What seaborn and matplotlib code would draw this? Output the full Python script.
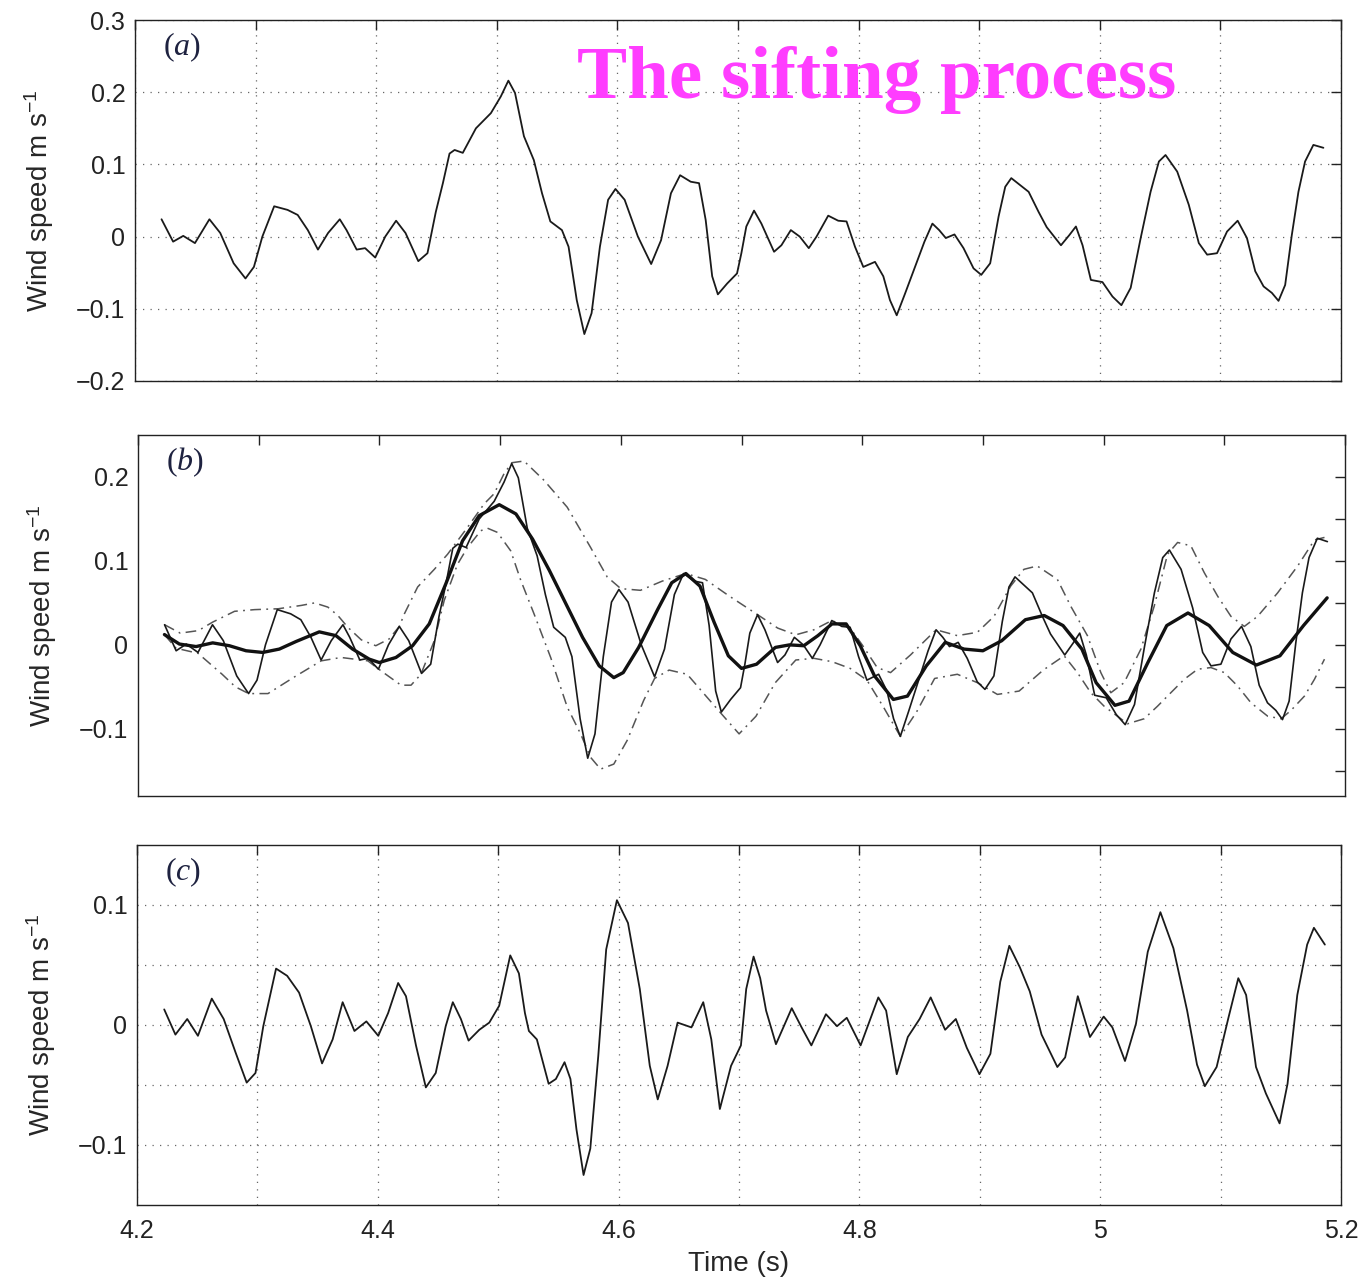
import numpy as np
import pandas as pd
import matplotlib
matplotlib.use("Agg")
import matplotlib.pyplot as plt
import seaborn as sns
from matplotlib.ticker import MultipleLocator, FixedLocator, FixedFormatter

# ---------------- data ----------------
# (a) original wind-speed signal
sig_t = [4.222, 4.2316, 4.240, 4.2497, 4.2617, 4.2707, 4.2818, 4.2916, 4.2986, 4.3056,
         4.3154, 4.3265, 4.3349, 4.3433, 4.3517, 4.3601, 4.3698, 4.3754, 4.3838, 4.3908,
         4.3992, 4.4075, 4.4165, 4.4243, 4.4349, 4.4425, 4.4494, 4.4553, 4.4608, 4.465,
         4.4718, 4.4827, 4.4951, 4.5033, 4.5096, 4.5151, 4.5225, 4.5307, 4.5375, 4.5444,
         4.554, 4.5595, 4.5663, 4.5726, 4.5786, 4.5855, 4.5923, 4.5984, 4.606, 4.617,
         4.628, 4.6362, 4.6444, 4.652, 4.6608, 4.6677, 4.6732, 4.6786, 4.6833, 4.691,
         4.6992, 4.7028, 4.7069, 4.7133, 4.7194, 4.7299, 4.736, 4.7438, 4.7512, 4.7587,
         4.7651, 4.7748, 4.7831, 4.79, 4.797, 4.8039, 4.8136, 4.8205, 4.826, 4.8316,
         4.8385, 4.8468, 4.8546, 4.8612, 4.8668, 4.8723, 4.8795, 4.887, 4.8953, 4.9017,
         4.9091, 4.9161, 4.9216, 4.9266, 4.941, 4.9493, 4.956, 4.9678, 4.9747, 4.9802,
         4.9857, 4.9926, 5.0022, 5.0105, 5.0179, 5.0256, 5.0339, 5.0421, 5.049, 5.0545,
         5.0642, 5.0738, 5.0821, 5.089, 5.0972, 5.1055, 5.1143, 5.122, 5.1289, 5.1358,
         5.1427, 5.1482, 5.1537, 5.1592, 5.1647, 5.1702, 5.1771, 5.1854]
sig_v = [0.024, -0.007, 0.001, -0.009, 0.024, 0.005, -0.037, -0.058, -0.042, 0.000,
         0.042, 0.037, 0.030, 0.009, -0.018, 0.005, 0.024, 0.009, -0.018, -0.016,
         -0.029, 0.000, 0.022, 0.005, -0.034, -0.023, 0.034, 0.074, 0.115, 0.120,
         0.116, 0.150, 0.171, 0.194, 0.216, 0.199, 0.139, 0.106, 0.060, 0.021,
         0.009, -0.014, -0.088, -0.135, -0.106, -0.014, 0.051, 0.066, 0.051, 0.000,
         -0.038, -0.005, 0.060, 0.085, 0.076, 0.074, 0.023, -0.055, -0.080, -0.065,
         -0.051, -0.023, 0.014, 0.036, 0.018, -0.021, -0.012, 0.009, 0.000, -0.016,
         0.000, 0.029, 0.022, 0.021, -0.014, -0.042, -0.035, -0.055, -0.088, -0.109,
         -0.079, -0.042, -0.007, 0.018, 0.009, -0.002, 0.003, -0.016, -0.044, -0.053,
         -0.037, 0.028, 0.069, 0.081, 0.062, 0.034, 0.013, -0.012, 0.002, 0.014,
         -0.012, -0.060, -0.063, -0.083, -0.095, -0.071, -0.002, 0.062, 0.104, 0.113,
         0.090, 0.044, -0.009, -0.025, -0.023, 0.007, 0.022, -0.002, -0.048, -0.069,
         -0.078, -0.089, -0.067, 0.002, 0.062, 0.104, 0.127, 0.123]

# (b) upper envelope
up_t = [4.222, 4.235, 4.25, 4.2617, 4.28, 4.2967, 4.316, 4.3353, 4.3463, 4.3573,
        4.3656, 4.3738, 4.385, 4.397, 4.408, 4.4165, 4.4207, 4.4317, 4.4455, 4.4565,
        4.473, 4.4868, 4.495, 4.5033, 4.5098, 4.5198, 4.5364, 4.5556, 4.575, 4.5887,
        4.6, 4.6163, 4.6344, 4.6539, 4.67, 4.69, 4.7133, 4.73, 4.745, 4.76,
        4.7748, 4.79, 4.80, 4.8124, 4.8235, 4.84, 4.8612, 4.8788, 4.8954, 4.9092,
        4.923, 4.934, 4.945, 4.9617, 4.9728, 4.9866, 4.9977, 5.006, 5.017, 5.0309,
        5.0419, 5.053, 5.0613, 5.0723, 5.0834, 5.0945, 5.1055, 5.1166, 5.1276, 5.1442,
        5.1608, 5.1747, 5.183]
up_v = [0.024, 0.014, 0.017, 0.027, 0.040, 0.042, 0.043, 0.047, 0.050, 0.045,
        0.035, 0.021, 0.006, -0.001, 0.007, 0.022, 0.037, 0.069, 0.090, 0.108,
        0.140, 0.168, 0.180, 0.204, 0.217, 0.219, 0.196, 0.164, 0.116, 0.081,
        0.067, 0.065, 0.076, 0.085, 0.078, 0.058, 0.036, 0.020, 0.012, 0.018,
        0.029, 0.020, 0.000, -0.027, -0.033, -0.012, 0.018, 0.011, 0.015, 0.034,
        0.070, 0.090, 0.094, 0.078, 0.046, 0.011, -0.033, -0.057, -0.045, -0.005,
        0.046, 0.108, 0.122, 0.118, 0.086, 0.058, 0.034, 0.022, 0.034, 0.062,
        0.094, 0.125, 0.128]

# (b) lower envelope
lo_t = [4.222, 4.2316, 4.2497, 4.2697, 4.2807, 4.2917, 4.3077, 4.3298, 4.3518, 4.3683,
        4.3904, 4.4014, 4.4179, 4.4262, 4.4344, 4.4455, 4.4537, 4.4647, 4.473, 4.484,
        4.4895, 4.4978, 4.5088, 4.5171, 4.5281, 4.5419, 4.5556, 4.5667, 4.575, 4.5832,
        4.5942, 4.6052, 4.619, 4.628, 4.64, 4.655, 4.67, 4.6833, 4.698, 4.712,
        4.728, 4.745, 4.76, 4.775, 4.79, 4.8039, 4.8180, 4.8316, 4.845, 4.86,
        4.8788, 4.8954, 4.912, 4.93, 4.95, 4.9673, 4.9783, 4.9894, 5.0004, 5.0115,
        5.0198, 5.0336, 5.0447, 5.0557, 5.0668, 5.0779, 5.0889, 5.1, 5.111, 5.1221,
        5.136, 5.147, 5.1553, 5.1664, 5.1747, 5.183]
lo_v = [0.012, -0.004, -0.010, -0.035, -0.050, -0.058, -0.058, -0.038, -0.019, -0.015,
        -0.019, -0.031, -0.048, -0.048, -0.035, 0.005, 0.053, 0.096, 0.116, 0.136,
        0.139, 0.134, 0.112, 0.077, 0.037, -0.015, -0.074, -0.106, -0.134, -0.148,
        -0.142, -0.114, -0.066, -0.040, -0.030, -0.035, -0.060, -0.082, -0.106, -0.085,
        -0.045, -0.018, -0.016, -0.020, -0.028, -0.042, -0.075, -0.109, -0.080, -0.040,
        -0.035, -0.045, -0.059, -0.055, -0.030, -0.013, -0.033, -0.057, -0.073, -0.085,
        -0.094, -0.088, -0.073, -0.057, -0.041, -0.029, -0.027, -0.033, -0.049, -0.069,
        -0.085, -0.088, -0.078, -0.061, -0.041, -0.017]

# (b) mean of the envelopes
mean_t = [4.2219, 4.2343, 4.2481, 4.2619, 4.2757, 4.2895, 4.3033, 4.3171, 4.3309, 4.3502,
          4.364, 4.3778, 4.3916, 4.3999, 4.4137, 4.4275, 4.4413, 4.4551, 4.4689, 4.4827,
          4.4993, 4.5131, 4.5269, 4.5407, 4.5545, 4.5683, 4.5821, 4.5942, 4.602, 4.6148,
          4.6305, 4.6422, 4.6539, 4.6656, 4.6773, 4.6891, 4.7, 4.7125, 4.7281, 4.7398,
          4.7516, 4.7633, 4.775, 4.7867, 4.7984, 4.8102, 4.8258, 4.8375, 4.8531, 4.8688,
          4.8844, 4.9, 4.9156, 4.9352, 4.9508, 4.9664, 4.982, 4.9938, 5.0094, 5.0211,
          5.0367, 5.0523, 5.0699, 5.0875, 5.107, 5.1266, 5.1461, 5.1656, 5.1852]
mean_v = [0.0123, 0.001, -0.002, 0.0024, -0.001, -0.007, -0.009, -0.005, 0.004, 0.0155,
          0.011, -0.005, -0.017, -0.021, -0.015, -0.001, 0.025, 0.073, 0.124, 0.154,
          0.167, 0.156, 0.126, 0.089, 0.049, 0.009, -0.025, -0.039, -0.033, -0.003,
          0.042, 0.074, 0.085, 0.070, 0.027, -0.013, -0.028, -0.023, -0.003, 0.000,
          -0.001, 0.011, 0.025, 0.025, -0.001, -0.037, -0.065, -0.061, -0.025, 0.003,
          -0.005, -0.007, 0.005, 0.030, 0.035, 0.023, -0.005, -0.045, -0.072, -0.067,
          -0.021, 0.023, 0.038, 0.023, -0.009, -0.024, -0.013, 0.023, 0.056]

# (c) first proto-IMF h1
h1_t = [4.2226, 4.2319, 4.2417, 4.2506, 4.2621, 4.272, 4.2819, 4.2911, 4.2984, 4.3049,
        4.3155, 4.3247, 4.3346, 4.3444, 4.3537, 4.3625, 4.3708, 4.3806, 4.3905, 4.4004,
        4.4086, 4.4169, 4.4234, 4.4317, 4.4399, 4.4481, 4.4564, 4.4623, 4.469, 4.4754,
        4.4843, 4.4926, 4.5008, 4.51, 4.5172, 4.5222, 4.5255, 4.5321, 4.5419, 4.5479,
        4.5551, 4.56, 4.565, 4.5709, 4.5765, 4.5831, 4.5897, 4.5986, 4.6078, 4.6176,
        4.6259, 4.6325, 4.6407, 4.649, 4.6605, 4.6703, 4.677, 4.6841, 4.6934, 4.7016,
        4.7060, 4.7121, 4.7176, 4.7225, 4.7307, 4.7438, 4.752, 4.7601, 4.7722, 4.7814,
        4.7895, 4.801, 4.8157, 4.8222, 4.831, 4.8402, 4.85, 4.8592, 4.8712, 4.8801,
        4.8892, 4.8997, 4.9088, 4.917, 4.9245, 4.9333, 4.9415, 4.9513, 4.9644, 4.9709,
        4.9814, 4.9915, 5.0029, 5.0101, 5.0206, 5.0297, 5.0395, 5.05, 5.0608, 5.0722,
        5.0804, 5.0869, 5.0967, 5.1065, 5.1147, 5.1212, 5.1294, 5.1376, 5.149, 5.1556,
        5.1637, 5.1719, 5.1775, 5.1866]
h1_v = [0.013, -0.008, 0.005, -0.009, 0.022, 0.005, -0.023, -0.048, -0.040, -0.001,
        0.047, 0.041, 0.027, -0.001, -0.032, -0.012, 0.019, -0.005, 0.003, -0.009,
        0.010, 0.035, 0.024, -0.017, -0.052, -0.040, -0.001, 0.019, 0.005, -0.013,
        -0.004, 0.002, 0.016, 0.058, 0.043, 0.010, -0.005, -0.012, -0.049, -0.045,
        -0.031, -0.045, -0.087, -0.125, -0.103, -0.026, 0.063, 0.104, 0.085, 0.030,
        -0.034, -0.062, -0.034, 0.002, -0.002, 0.019, -0.012, -0.070, -0.034, -0.017,
        0.030, 0.057, 0.039, 0.012, -0.016, 0.014, -0.002, -0.017, 0.009, -0.001,
        0.006, -0.017, 0.023, 0.012, -0.041, -0.010, 0.005, 0.023, -0.004, 0.005,
        -0.019, -0.041, -0.024, 0.036, 0.066, 0.048, 0.028, -0.008, -0.035, -0.027,
        0.024, -0.010, 0.007, -0.002, -0.030, 0.001, 0.061, 0.094, 0.064, 0.012,
        -0.033, -0.051, -0.035, 0.006, 0.039, 0.025, -0.035, -0.057, -0.082, -0.049,
        0.025, 0.067, 0.081, 0.067]

# tick labels
x_ticks = [4.2, 4.4, 4.6, 4.8, 5.0, 5.2]
x_ticklabels = ["4.2", "4.4", "4.6", "4.8", "5", "5.2"]
a_yticks = [-0.2, -0.1, 0.0, 0.1, 0.2, 0.3]
a_yticklabels = ["\u22120.2", "\u22120.1", "0", "0.1", "0.2", "0.3"]
b_yticks = [-0.1, 0.0, 0.1, 0.2]
b_yticklabels = ["\u22120.1", "0", "0.1", "0.2"]
c_yticks = [-0.1, 0.0, 0.1]
c_yticklabels = ["\u22120.1", "0", "0.1"]
panel_letters = ["a", "b", "c"]
ylabel_text = r"Wind speed m s$^{-1}$"
xlabel_text = "Time (s)"
title_text = "The sifting process"

# ---------------- style ----------------
sns.set_theme(style="white")
sans = ["Liberation Sans", "DejaVu Sans"]
plt.rcParams["font.family"] = sans
plt.rcParams["mathtext.default"] = "regular"
plt.rcParams["mathtext.fontset"] = "custom"
plt.rcParams["mathtext.it"] = "Liberation Serif:italic"
plt.rcParams["mathtext.rm"] = "Liberation Serif"
plt.rcParams["axes.edgecolor"] = "#222222"
plt.rcParams["lines.solid_joinstyle"] = "round"
plt.rcParams["lines.solid_capstyle"] = "round"

fig = plt.figure(figsize=(13.69, 12.81), dpi=100)
W, H = 1369, 1281
def axpos(l, t, r, b):
    return [l / W, 1 - b / H, (r - l) / W, (b - t) / H]

ax_a = fig.add_axes(axpos(135, 20, 1341, 381))
ax_b = fig.add_axes(axpos(138, 435, 1345, 796))
ax_c = fig.add_axes(axpos(137, 845, 1341, 1205))

grid_kw = dict(color="#666666", linestyle=(0, (1, 5)), linewidth=0.9)
env_ls = (0, (7, 3.5, 1.2, 3.5))

df_sig = pd.DataFrame({"t": sig_t, "v": sig_v})
df_up = pd.DataFrame({"t": up_t, "v": up_v})
df_lo = pd.DataFrame({"t": lo_t, "v": lo_v})
df_mean = pd.DataFrame({"t": mean_t, "v": mean_v})
df_h1 = pd.DataFrame({"t": h1_t, "v": h1_v})

# panel a
sns.lineplot(data=df_sig, x="t", y="v", ax=ax_a, color="#1a1a1a", linewidth=1.3, estimator=None)
# panel b
sns.lineplot(data=df_up, x="t", y="v", ax=ax_b, color="#555555", linewidth=1.1, estimator=None, linestyle=env_ls)
sns.lineplot(data=df_lo, x="t", y="v", ax=ax_b, color="#555555", linewidth=1.1, estimator=None, linestyle=env_ls)
sns.lineplot(data=df_sig, x="t", y="v", ax=ax_b, color="#1a1a1a", linewidth=1.2, estimator=None)
sns.lineplot(data=df_mean, x="t", y="v", ax=ax_b, color="#111111", linewidth=2.4, estimator=None)
# panel c
sns.lineplot(data=df_h1, x="t", y="v", ax=ax_c, color="#1a1a1a", linewidth=1.3, estimator=None)

for ax in (ax_a, ax_b, ax_c):
    ax.set_xlim(4.2, 5.2)
    ax.xaxis.set_major_locator(MultipleLocator(0.1))
    ax.set_xlabel("")
    ax.set_ylabel(ylabel_text, fontsize=20, labelpad=14)
    ax.tick_params(direction="in", top=True, right=True, length=7, width=1.0,
                   labelsize=18, colors="#222222", pad=7)
    ax.tick_params(which="minor", direction="in", top=True, right=True, length=7, width=1.0)
    for s in ax.spines.values():
        s.set_linewidth(1.0)
        s.set_visible(True)
    ax.set_xticklabels([])

ax_a.set_ylim(-0.2, 0.3)
ax_a.yaxis.set_major_locator(FixedLocator(a_yticks))
ax_a.yaxis.set_major_formatter(FixedFormatter(a_yticklabels))
ax_a.grid(True, which="major", **grid_kw)

ax_b.set_ylim(-0.18, 0.25)
ax_b.yaxis.set_major_locator(FixedLocator(b_yticks))
ax_b.yaxis.set_major_formatter(FixedFormatter(b_yticklabels))
ax_b.yaxis.set_minor_locator(FixedLocator([-0.15, -0.05, 0.05, 0.15]))
ax_b.grid(False)

ax_c.set_ylim(-0.15, 0.15)
ax_c.yaxis.set_major_locator(FixedLocator(c_yticks))
ax_c.yaxis.set_major_formatter(FixedFormatter(c_yticklabels))
ax_c.yaxis.set_minor_locator(FixedLocator([-0.05, 0.05]))
ax_c.grid(True, which="both", **grid_kw)
ax_c.set_xticks([4.2 + 0.1 * i for i in range(11)])
labels = []
for i in range(11):
    val = round(4.2 + 0.1 * i, 1)
    labels.append(x_ticklabels[x_ticks.index(val)] if val in x_ticks else "")
ax_c.set_xticklabels(labels)
ax_c.tick_params(axis="x", pad=10)
ax_c.set_xlabel(xlabel_text, fontsize=20, labelpad=6)

for ax, letter in zip((ax_a, ax_b, ax_c), panel_letters):
    ax.text(0.023, 0.97, r"($\mathit{%s}$)" % letter, transform=ax.transAxes,
            ha="left", va="top", fontsize=23, family="Liberation Serif", color="#1e2240")

fig.text(577 / W, 1 - 80 / H, title_text, ha="left", va="center", fontsize=54,
         family="Liberation Serif", fontweight="bold", color="#ff3dff")

fig.savefig("out.png", dpi=100)
